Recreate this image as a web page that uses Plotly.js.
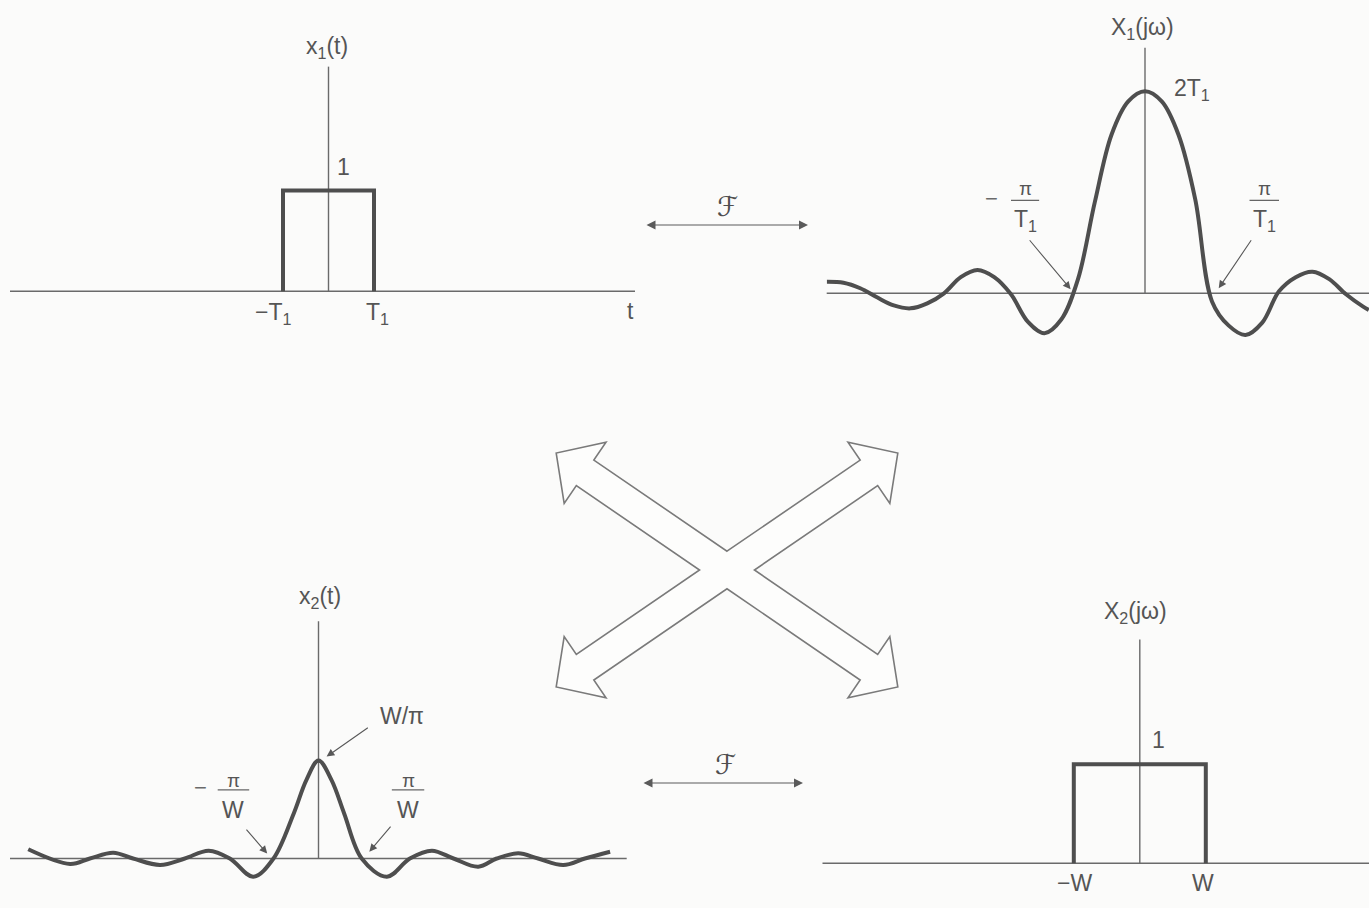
<!DOCTYPE html>
<html>
<head>
<meta charset="utf-8">
<script src="https://cdn.plot.ly/plotly-3.0.1.min.js"></script>
<style>
  html, body { margin: 0; padding: 0; background: #fbfbfa; }
  #fig { width: 1369px; height: 908px; }
</style>
</head>
<body>
<div id="fig"></div>
<script>
// x1(t): rectangular pulse of half-width T1 (T1 = 1)
const pulseT = [-1, -1, 1, 1];
const pulseX1 = [0, 1, 1, 0];

// X1(jω) = 2 sin(ωT1)/ω ; ω in units of π/T1, amplitude with T1 = 1 (peak 2T1)
const omega1 = [-4.75, -4.5, -4.25, -4.0, -3.75, -3.5, -3.25, -3.0, -2.75, -2.5, -2.25, -2.0,
                -1.75, -1.5, -1.25, -1.0, -0.75, -0.5, -0.25, 0, 0.25, 0.5, 0.75, 1.0,
                1.25, 1.5, 1.75, 2.0, 2.25, 2.5, 2.75, 3.0, 3.25, 3.34];
const spectrumX1 = [0.115, 0.105, 0.05, -0.04, -0.12, -0.149, -0.10, 0.0, 0.16, 0.231, 0.16, -0.01,
                    -0.28, -0.395, -0.26, 0.14, 0.90, 1.57, 1.90, 2.0, 1.90, 1.57, 0.93, -0.08,
                    -0.32, -0.413, -0.29, 0.02, 0.16, 0.214, 0.14, -0.01, -0.13, -0.165];

// x2(t) = sin(Wt)/(πt) ; t in units of π/W, amplitude in units of W/π
const time2 = [-6.45, -5.52, -5.08, -4.56, -4.12, -3.52, -2.97, -2.44, -1.97, -1.45, -1.0, -0.55, -0.27,
               0, 0.29, 0.57, 0.96, 1.52, 2.03, 2.52, 3.0, 3.55, 3.96, 4.44, 4.88, 5.44, 5.92, 6.48];
const signalX2 = [0.094, -0.056, 0, 0.059, 0, -0.066, 0, 0.080, 0, -0.186, 0, 0.46, 0.80,
                  1.0, 0.80, 0.46, 0, -0.186, 0, 0.080, 0, -0.084, 0, 0.053, 0, -0.066, 0, 0.069];

// X2(jω): ideal band of half-width W (W = 1)
const bandW = [-1, -1, 1, 1];
const bandX2 = [0, 1, 1, 0];

// axis and edge labels
const panelTitles = ['x<sub>1</sub>(t)', 'X<sub>1</sub>(jω)', 'x<sub>2</sub>(t)', 'X<sub>2</sub>(jω)'];
const pulseEdgeLabels = ['−T<sub>1</sub>', 'T<sub>1</sub>'];
const bandEdgeLabels = ['−W', 'W'];
const peakLabels = ['1', '2T<sub>1</sub>', 'W/π', '1'];

// ---------- page geometry ----------
const W = 1369, H = 908;
const INK = '#4e4e4e', AXIS = '#6a6a6a', TEXT = '#555555';
const FONT = 'Liberation Sans, Arial, Helvetica, sans-serif';
const FS = 23;

// each panel: pixel box [left, right, top, bottom], pixel origin, pixels per unit
const panels = [
  { n: 1, box: [10, 635, 30, 340],       origin: [328.5, 291.2], unit: [45.5, 100.7], vtop: 2.23 },
  { n: 2, box: [826.7, 1369, 0, 360],    origin: [1145, 293.3],  unit: [67, 101],     vtop: 2.43 },
  { n: 3, box: [10, 626.7, 585, 905],    origin: [318.5, 858.5], unit: [45, 98],      vtop: 2.42 },
  { n: 4, box: [822.5, 1369, 595, 905],  origin: [1139.8, 863.3], unit: [66, 99],     vtop: 2.26 }
];
panels.forEach(p => {
  p.xa = p.n === 1 ? 'x' : 'x' + p.n;
  p.ya = p.n === 1 ? 'y' : 'y' + p.n;
});

const layout = {
  width: W, height: H,
  margin: { l: 0, r: 0, t: 0, b: 0, pad: 0 },
  paper_bgcolor: '#fbfbfa',
  plot_bgcolor: 'rgba(0,0,0,0)',
  showlegend: false,
  font: { family: FONT, color: TEXT, size: FS },
  shapes: [],
  annotations: []
};

panels.forEach(p => {
  const [L, R, T, B] = p.box, [ox, oy] = p.origin, [ux, uy] = p.unit;
  const base = { showgrid: false, zeroline: false, showticklabels: false, ticks: '', showline: false, fixedrange: true };
  layout[p.n === 1 ? 'xaxis' : 'xaxis' + p.n] = Object.assign({}, base, {
    domain: [L / W, R / W], range: [(L - ox) / ux, (R - ox) / ux], anchor: p.ya
  });
  layout[p.n === 1 ? 'yaxis' : 'yaxis' + p.n] = Object.assign({}, base, {
    domain: [1 - B / H, 1 - T / H], range: [(oy - B) / uy, (oy - T) / uy], anchor: p.xa
  });
  // horizontal axis across the panel
  layout.shapes.push({ type: 'line', layer: 'below', xref: p.xa + ' domain', yref: p.ya,
    x0: 0, x1: 1, y0: 0, y1: 0, line: { color: AXIS, width: 1.5 } });
  // vertical axis from the origin upward
  layout.shapes.push({ type: 'line', layer: 'below', xref: p.xa, yref: p.ya,
    x0: 0, x1: 0, y0: 0, y1: p.vtop, line: { color: AXIS, width: 1.4 } });
});

const [pA, pB, pC, pD] = panels;

function label(p, x, y, text, extra) {
  return Object.assign({ xref: p.xa, yref: p.ya, x, y, text, showarrow: false,
    font: { family: FONT, color: TEXT, size: FS } }, extra || {});
}
function pointer(p, head, tail) {
  return { xref: p.xa, yref: p.ya, x: head[0], y: head[1], axref: p.xa, ayref: p.ya,
    ax: tail[0], ay: tail[1], text: '', showarrow: true, arrowhead: 2, arrowsize: 1.4,
    arrowwidth: 1.1, arrowcolor: '#585858', standoff: 0 };
}
function fraction(p, xc, yNum, yBar, yDen, half, num, den, minusX) {
  layout.annotations.push(label(p, xc, yNum, num, { font: { family: FONT, color: TEXT, size: 19 } }));
  layout.annotations.push(label(p, xc, yDen, den));
  layout.shapes.push({ type: 'line', xref: p.xa, yref: p.ya, x0: xc - half, x1: xc + half,
    y0: yBar, y1: yBar, line: { color: '#666', width: 1.3 } });
  if (minusX !== undefined) {
    layout.annotations.push(label(p, minusX, yBar + 0.02, '−', { font: { family: FONT, color: '#6a6a6a', size: 22 } }));
  }
}

// panel titles
layout.annotations.push(label(pA, -0.03, 2.42, panelTitles[0]));
layout.annotations.push(label(pB, -0.04, 2.62, panelTitles[1]));
layout.annotations.push(label(pC, 0.03, 2.66, panelTitles[2]));
layout.annotations.push(label(pD, -0.06, 2.53, panelTitles[3]));

// panel A: pulse labels
layout.annotations.push(label(pA, 0.32, 1.23, peakLabels[0]));
layout.annotations.push(label(pA, -1.22, -0.22, pulseEdgeLabels[0]));
layout.annotations.push(label(pA, 1.07, -0.22, pulseEdgeLabels[1]));
layout.annotations.push(label(pA, 6.63, -0.2, 't'));

// panel B: sinc spectrum labels
layout.annotations.push(label(pB, 0.70, 2.02, peakLabels[1]));
fraction(pB, -1.79, 1.04, 0.92, 0.72, 0.21, 'π', 'T<sub>1</sub>', -2.29);
fraction(pB, 1.78, 1.04, 0.92, 0.72, 0.22, 'π', 'T<sub>1</sub>');
layout.annotations.push(pointer(pB, [-1.11, 0.04], [-1.74, 0.54]));
layout.annotations.push(pointer(pB, [1.10, 0.05], [1.60, 0.54]));

// panel C: sinc signal labels
layout.annotations.push(label(pC, 1.86, 1.45, peakLabels[2]));
layout.annotations.push(pointer(pC, [0.18, 1.04], [1.13, 1.345]));
fraction(pC, -1.89, 0.80, 0.70, 0.49, 0.35, 'π', 'W', -2.63);
fraction(pC, 1.99, 0.80, 0.70, 0.49, 0.36, 'π', 'W');
layout.annotations.push(pointer(pC, [-1.14, 0.05], [-1.63, 0.31]));
layout.annotations.push(pointer(pC, [1.13, 0.07], [1.63, 0.34]));
layout.annotations.push(label(pC, 6.85, -0.22, 't'));

// panel D: band labels
layout.annotations.push(label(pD, 0.29, 1.25, peakLabels[3]));
layout.annotations.push(label(pD, -0.99, -0.2, bandEdgeLabels[0]));
layout.annotations.push(label(pD, 0.96, -0.2, bandEdgeLabels[1]));

// ---------- transform-pair arrows (ℱ) between the panels ----------
function px(x, y) { return [x / W, 1 - y / H]; }
function pairArrow(x0, x1, y, fx) {
  const [hx, hy] = px(x1, y);
  layout.annotations.push({ xref: 'paper', yref: 'paper', x: hx, y: hy, ax: -(x1 - x0), ay: 0,
    text: '', showarrow: true, arrowside: 'end+start', arrowhead: 2, startarrowhead: 2,
    arrowsize: 1.5, startarrowsize: 1.5, arrowwidth: 1.2, arrowcolor: '#5a5a5a', standoff: 0, startstandoff: 0 });
  const [tx, ty] = px(fx, y - 1);
  layout.annotations.push({ xref: 'paper', yref: 'paper', x: tx, y: ty, yanchor: 'bottom', text: 'ℱ',
    showarrow: false, font: { family: 'DejaVu Serif, DejaVu Sans, serif', color: '#4f4f4f', size: 27 } });
}
pairArrow(645, 808, 225, 727);
pairArrow(642, 803, 783, 725);

// ---------- central duality cross: two hollow double-headed arrows ----------
(function () {
  const C = [727, 570], armLen = 207, shaft = 15.5, headLen = 35, headHalf = 37;
  const ang = 34.4 * Math.PI / 180;
  const dirs = [-ang, ang, Math.PI - ang, Math.PI + ang];   // clockwise on screen
  const arms = dirs.map(a => {
    const u = [Math.cos(a), Math.sin(a)];
    const n = [u[1], -u[0]];
    return { u, n };
  });
  const add = (a, b, s) => [a[0] + b[0] * s, a[1] + b[1] * s];
  function notch(a, b) {
    // intersection of arm a's trailing edge with arm b's leading edge
    const p = add(C, a.n, -shaft), q = add(C, b.n, shaft);
    const d = [q[0] - p[0], q[1] - p[1]];
    const den = a.u[0] * (-b.u[1]) - a.u[1] * (-b.u[0]);
    const s = (d[0] * (-b.u[1]) - d[1] * (-b.u[0])) / den;
    return add(p, a.u, s);
  }
  const pts = [];
  arms.forEach((arm, i) => {
    const prev = arms[(i + 3) % 4];
    pts.push(notch(prev, arm));
    const base = add(C, arm.u, armLen - headLen);
    pts.push(add(base, arm.n, shaft));
    pts.push(add(base, arm.n, headHalf));
    pts.push(add(C, arm.u, armLen));
    pts.push(add(base, arm.n, -headHalf));
    pts.push(add(base, arm.n, -shaft));
  });
  const path = pts.map((p, i) => {
    const [x, y] = px(p[0], p[1]);
    return (i ? 'L' : 'M') + x.toFixed(5) + ',' + y.toFixed(5);
  }).join(' ') + ' Z';
  layout.shapes.push({ type: 'path', xref: 'paper', yref: 'paper', path,
    fillcolor: '#fdfdfc', line: { color: '#7a7a7a', width: 1.6 }, layer: 'above' });
})();

// ---------- traces ----------
const data = [
  { x: pulseT, y: pulseX1, xaxis: pA.xa, yaxis: pA.ya, mode: 'lines',
    line: { color: INK, width: 4 }, hoverinfo: 'skip' },
  { x: omega1, y: spectrumX1, xaxis: pB.xa, yaxis: pB.ya, mode: 'lines',
    line: { color: INK, width: 4, shape: 'spline', smoothing: 1 }, hoverinfo: 'skip' },
  { x: time2, y: signalX2, xaxis: pC.xa, yaxis: pC.ya, mode: 'lines',
    line: { color: INK, width: 4, shape: 'spline', smoothing: 1 }, hoverinfo: 'skip' },
  { x: bandW, y: bandX2, xaxis: pD.xa, yaxis: pD.ya, mode: 'lines',
    line: { color: INK, width: 4 }, hoverinfo: 'skip' }
];

Plotly.newPlot('fig', data, layout, { displayModeBar: false, staticPlot: true });
</script>
</body>
</html>
